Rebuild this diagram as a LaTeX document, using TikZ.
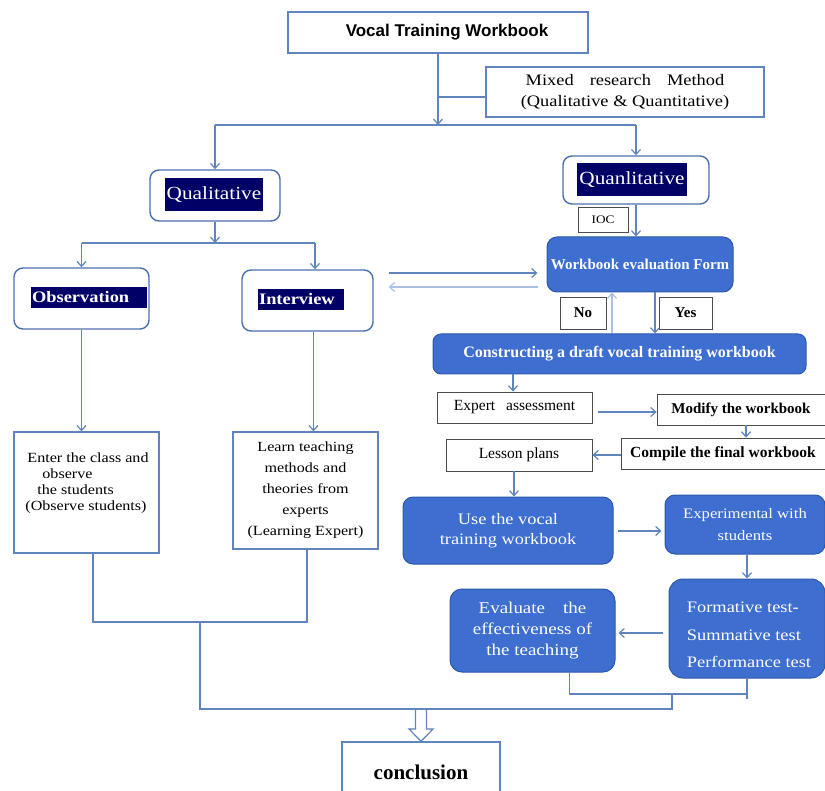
\documentclass[tikz,border=0pt]{standalone}
\usepackage{fontspec}
\setmainfont{Liberation Serif}
\newfontfamily\widefont{Liberation Serif}[FakeStretch=1.15]
\newfontfamily\titlefont{Liberation Sans}
\usetikzlibrary{arrows.meta}
\definecolor{ln}{RGB}{96,132,190}
\definecolor{pale}{RGB}{170,192,228}
\definecolor{bfill}{RGB}{62,110,208}
\definecolor{bdraw}{RGB}{45,88,170}
\definecolor{navy}{RGB}{0,0,102}
\definecolor{rbord}{RGB}{74,111,176}
\begin{document}
\begin{tikzpicture}[x=1pt,y=-1pt,line width=1.2pt,
 arr/.style={draw=ln,-{Straight Barb[length=5pt,width=9pt]}},
 palearr/.style={draw=pale,-{Straight Barb[length=5pt,width=9pt]}},
 conn/.style={draw=ln},
 wbox/.style={draw=ln,line width=1.3pt,fill=white,inner sep=0pt,align=center},
 tbox/.style={draw=black!70,line width=0.8pt,fill=white,inner sep=0pt},
 rbox/.style={draw=rbord,line width=1.4pt,rounded corners=9pt,fill=white,inner sep=0pt},
 bbox/.style={draw=bdraw,line width=1pt,fill=bfill,text=white,rounded corners=10pt,inner sep=0pt,align=center},
 navlab/.style={fill=navy,text=white,inner sep=0pt},
]
\fill[white] (0,0) rectangle (825,791);
\useasboundingbox (0,0) rectangle (825,791);

% top
\node[wbox,minimum width=300,minimum height=41,font=\titlefont\bfseries\fontsize{17}{20}\selectfont] (title) at (438,32.5) {\hspace*{18pt}Vocal Training Workbook};
\node[wbox,minimum width=278,minimum height=50,font=\widefont\fontsize{16}{21}\selectfont] (mixed) at (625,92) {Mixed\quad research\quad Method\\(Qualitative \& Quantitative)};

% qualitative / quantitative
\node[rbox,minimum width=130,minimum height=51] (qual) at (215,195.5) {};
\node[navlab,minimum width=98,minimum height=33,font=\widefont\fontsize{18.5}{20}\selectfont] (qualL) at (214,194.5) {Qualitative};
\node[rbox,minimum width=146,minimum height=48] (quan) at (636,180) {};
\node[navlab,minimum width=110,minimum height=33,font=\widefont\fontsize{18.5}{20}\selectfont] (quanL) at (632,179.5) {Quanlitative};
\node[tbox,minimum width=50,minimum height=25,font=\widefont\fontsize{11.5}{13}\selectfont] (ioc) at (603,219.5) {IOC};

\coordinate (hl) at (438,125);
\draw[arr] (title.south) -- (hl);
\draw[conn] (title.south |- 0,97) -- (mixed.west |- 0,97);
\draw[conn] (qual.north |- hl) -- (quan.north |- hl);
\draw[arr] (qual.north |- hl) -- (qual.north);
\draw[arr] (quan.north |- hl) -- (quan.north);

% observation / interview
\node[rbox,minimum width=135,minimum height=61] (obs) at (81.5,298.5) {};
\node[navlab,anchor=west,minimum width=116,minimum height=21,text width=115,align=left,font=\widefont\bfseries\fontsize{16}{18}\selectfont] (obsL) at (30,297.5) {\hspace*{1pt}Observation};
\node[rbox,minimum width=131,minimum height=61] (int) at (307.5,300.5) {};
\node[navlab,anchor=west,minimum width=86,minimum height=21,text width=85,align=left,font=\widefont\bfseries\fontsize{16}{18}\selectfont] (intL) at (257,299.5) {\hspace*{1pt}Interview};

\coordinate (hl2) at (215,243);
\coordinate (intin) at ([xshift=7.5pt]int.north);
\coordinate (intout) at ([xshift=6pt]int.south);
\draw[arr] (qual.south) -- (hl2);
\draw[conn] (obs.north |- hl2) -- (intin |- hl2);
\draw[arr] (obs.north |- hl2) -- (obs.north);
\draw[arr] (intin |- hl2) -- (intin);

% lower left boxes
\node[wbox,minimum width=145,minimum height=121] (enter) at (86.5,492.5) {};
\node[anchor=center,align=left,inner sep=0pt,font=\widefont\fontsize{14}{16}\selectfont] (enterT) at (87,483) {\hspace*{2pt}Enter the class and\\\hspace*{17pt}observe\\\hspace*{12pt}the students\\(Observe students)};
\node[wbox,minimum width=145,minimum height=117,font=\widefont\fontsize{14}{21}\selectfont] (learn) at (305.5,490.5) {Learn teaching\\methods and\\theories from\\experts\\(Learning Expert)};
\draw[arr] (obs.south) -- (obs.south |- enter.north);
\draw[arr] (intout) -- (intout |- learn.north);

% right column
\node[bbox,minimum width=186,minimum height=55,font=\bfseries\fontsize{15}{18}\selectfont] (wef) at (640,264.5) {Workbook evaluation Form};
\draw[arr] (quan.south) -- (quan.south |- wef.north);
\draw[arr,shorten <=15pt,shorten >=9pt] (int.east |- 0,273) -- (wef.west |- 0,273);
\draw[palearr,shorten <=9pt,shorten >=15pt] (wef.west |- 0,287) -- (int.east |- 0,287);

\node[tbox,minimum width=46,minimum height=32,font=\bfseries\fontsize{15}{17}\selectfont] (no) at (583,313) {No};
\node[tbox,minimum width=53,minimum height=32,font=\bfseries\fontsize{15}{17}\selectfont] (yes) at (685.5,313) {Yes};
\node[bbox,rounded corners=8pt,minimum width=373,minimum height=40,font=\bfseries\fontsize{16}{18}\selectfont] (cons) at (619.5,354) {Constructing a draft vocal training workbook};
\draw[arr] (wef.south -| 655,0) -- (cons.north -| 655,0);
\draw[palearr] (cons.north -| 612,0) -- (wef.south -| 612,0);

\node[tbox,minimum width=155,minimum height=31,font=\fontsize{15.5}{18}\selectfont] (expert) at (514.5,407.5) {Expert\hspace{11pt}assessment};
\node[tbox,minimum width=168,minimum height=31,font=\bfseries\fontsize{15}{18}\selectfont] (modify) at (741,409.5) {Modify the workbook};
\node[tbox,minimum width=204,minimum height=31,font=\bfseries\fontsize{15.5}{18}\selectfont] (compile) at (723,453.5) {Compile the final workbook};
\node[tbox,minimum width=146,minimum height=32,font=\fontsize{15.5}{18}\selectfont] (lesson) at (519,455) {Lesson plans};
\draw[arr] (cons.south -| 513,0) -- (expert.north -| 513,0);
\draw[arr,shorten <=6pt] (expert.east |- 0,412) -- (modify.west |- 0,412);
\draw[arr] (modify.south -| 746,0) -- (compile.north -| 746,0);
\draw[arr] (compile.west |- lesson.east) -- (lesson.east);

\node[bbox,minimum width=210,minimum height=67,font=\widefont\fontsize{16}{20}\selectfont] (use) at (508,530.5) {Use the vocal\\training workbook};
\node[bbox,minimum width=160,minimum height=59,font=\widefont\fontsize{14.5}{22}\selectfont] (exp) at (745,524.5) {Experimental with\\students};
\node[bbox,rounded corners=14pt,minimum width=156,minimum height=99] (form) at (747,628.5) {};
\node[anchor=center,align=left,inner sep=0pt,text=white,font=\widefont\fontsize{16}{27.5}\selectfont] (formT) at (749,635) {Formative test-\\Summative test\\Performance test};
\node[bbox,rounded corners=12pt,minimum width=165,minimum height=83,font=\widefont\fontsize{16.5}{21}\selectfont] (eval) at (532.5,630.5) {Evaluate\hspace{18pt}the\\effectiveness of\\the teaching};
\draw[arr] (lesson.south -| 514,0) -- (use.north -| 514,0);
\draw[arr,shorten <=4pt,shorten >=3pt] (use.east |- 0,531) -- (exp.west |- 0,531);
\draw[arr] (exp.south -| 747,0) -- (form.north -| 747,0);
\draw[arr,shorten <=6pt,shorten >=3pt] (form.west |- 0,633) -- (eval.east |- 0,633);

% bottom connectors
\coordinate (enb) at ([xshift=6.5pt]enter.south);
\coordinate (leb) at ([xshift=1.5pt]learn.south);
\coordinate (lj) at (200,622);
\coordinate (bj) at (200,709);
\coordinate (rj) at (672,709);
\coordinate (evb) at ([xshift=37pt]eval.south);
\coordinate (fot) at (747,699);
\draw[conn] (enb) -- (enb |- lj) -- (leb |- lj) -- (leb);
\draw[conn] (lj) -- (bj) -- (rj) -- (rj |- 0,694);
\draw[conn] (evb) -- (evb |- 0,694) -- (fot |- 0,694);
\draw[conn] (form.south) -- (fot);

% conclusion
\node[wbox,minimum width=158,minimum height=60,font=\bfseries\fontsize{21}{24}\selectfont] (conc) at (421,772) {conclusion};
\draw[ln,line width=1.2pt] (415.5,709) -- (415.5,729) -- (409,729) -- (conc.north) -- (433,729) -- (426.5,729) -- (426.5,709);
\end{tikzpicture}
\end{document}
